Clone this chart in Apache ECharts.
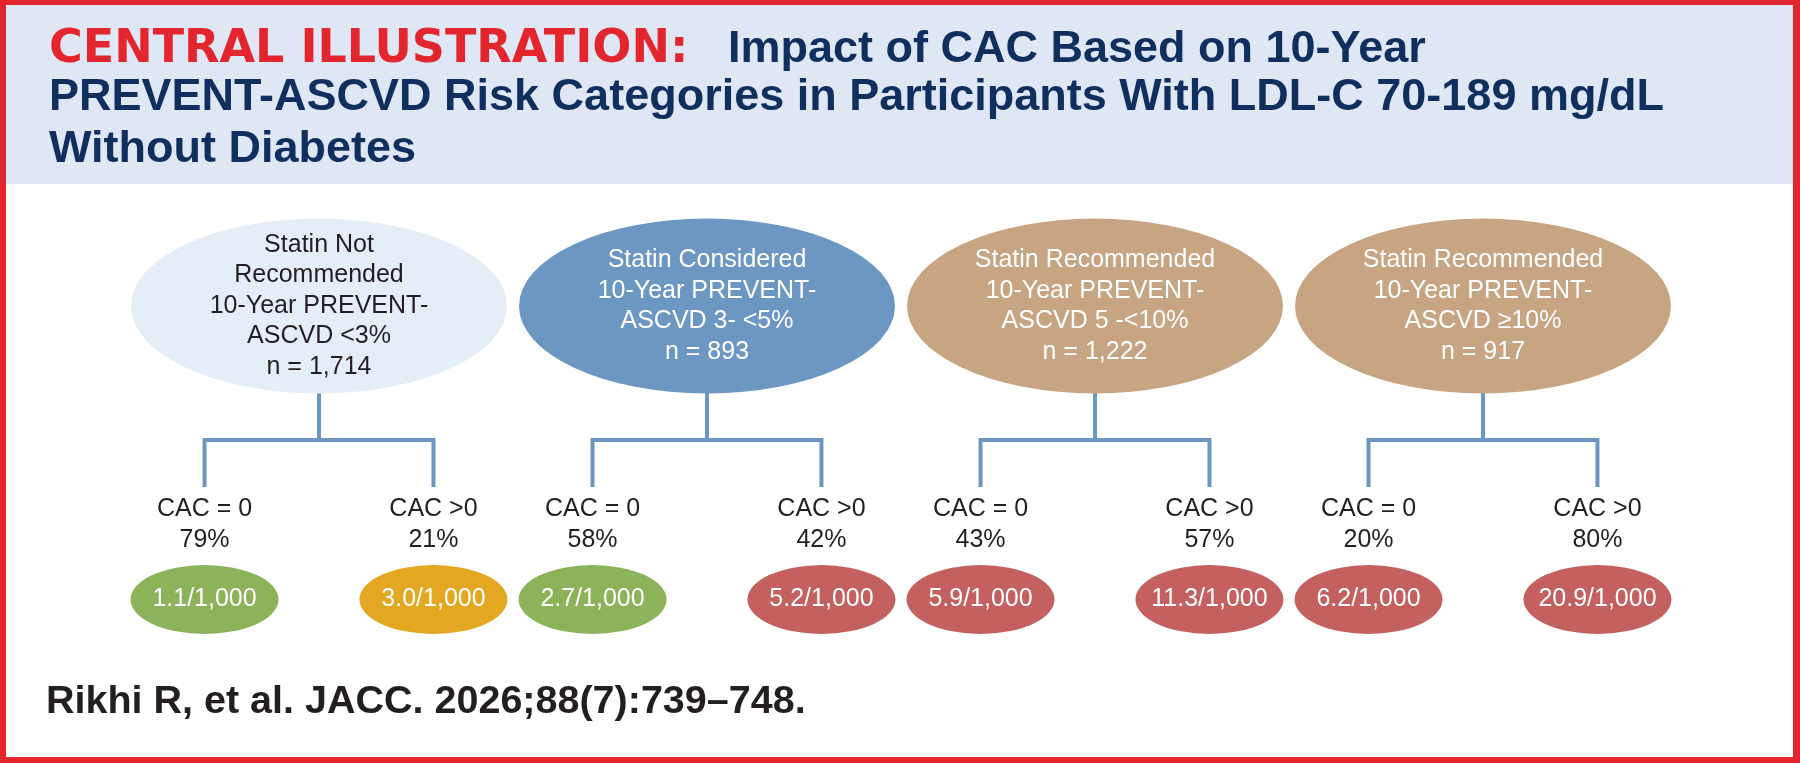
<!DOCTYPE html>
<html>
<head>
<meta charset="utf-8">
<title>Central Illustration - CAC and PREVENT-ASCVD</title>
<script src="https://cdn.jsdelivr.net/npm/echarts@6/dist/echarts.min.js"></script>
<style>
  html, body { margin: 0; padding: 0; background: #fff; }
  #chart { width: 1800px; height: 763px; }
</style>
</head>
<body>
<div id="chart"></div>
<script>
// ========== 数据 ==========
const groupTitles = ['Statin Not\nRecommended', 'Statin Considered', 'Statin Recommended', 'Statin Recommended'];
const groupRanges = ['10-Year PREVENT-\nASCVD <3%', '10-Year PREVENT-\nASCVD 3- <5%', '10-Year PREVENT-\nASCVD 5 -<10%', '10-Year PREVENT-\nASCVD ≥10%'];
const groupTiers = ['notRecommended', 'considered', 'recommended', 'recommended'];
const groupN = ['1,714', '893', '1,222', '917'];
const cacLabels = ['CAC = 0', 'CAC >0'];
const cacZeroPct = [79, 58, 43, 20];
const cacPosPct = [21, 42, 57, 80];
const cacZeroRate = [1.1, 2.7, 5.9, 6.2];
const cacPosRate = [3.0, 5.2, 11.3, 20.9];

// ========== 样式 ==========
const RED = '#e3262e';
const NAVY = '#102e5e';
const INK = '#231f20';
const LINE_COLOR = '#6b96c1';
const TIER_COLORS = { notRecommended: '#e5edf7', considered: '#6b97c2', recommended: '#c8a582' };
const TIER_TEXT = { notRecommended: INK, considered: '#ffffff', recommended: '#ffffff' };
const FONT = '"Liberation Sans", Arial, sans-serif';

// 行位置 (y 轴单位 = 像素)
const ROW_GROUP = 306;
const ROW_BAR = 440;
const ROW_BRANCH_END = 487;
const ROW_CAC = 525;
const ROW_RATE = 599.5;
const BRANCH_OFFSET = 0.295;

function rateColor(rate) {
    if (rate < 3) return '#8db35a';
    if (rate < 5) return '#e4a722';
    return '#c4605f';
}

// ========== 分支数据 ==========
const branchItems = [];
groupN.forEach(function (_, i) {
    branchItems.push({ x: i - BRANCH_OFFSET, label: cacLabels[0], pct: cacZeroPct[i], rate: cacZeroRate[i] });
    branchItems.push({ x: i + BRANCH_OFFSET, label: cacLabels[1], pct: cacPosPct[i], rate: cacPosRate[i] });
});

// ========== 图表 ==========
const myChart = echarts.init(document.getElementById('chart'));

const option = {
    animation: false,
    backgroundColor: '#ffffff',
    grid: { left: 125, right: 123, top: 0, bottom: 0 },
    xAxis: { type: 'value', min: -0.5, max: 3.5, show: false },
    yAxis: { type: 'value', min: 0, max: 763, inverse: true, show: false },
    graphic: [
        { type: 'rect', z: -10, shape: { x: 0, y: 0, width: 1800, height: 763 }, style: { fill: RED } },
        { type: 'rect', z: -9, shape: { x: 6, y: 5, width: 1787, height: 752 }, style: { fill: '#ffffff' } },
        { type: 'rect', z: -8, shape: { x: 6, y: 5, width: 1787, height: 179 }, style: { fill: '#dfe7f5' } },
        {
            type: 'text', x: 49, y: 50.5,
            style: { text: 'CENTRAL ILLUSTRATION:', fill: RED, font: 'bold 46px "DejaVu Sans", sans-serif', textVerticalAlign: 'middle' }
        },
        {
            type: 'text', x: 728, y: 50,
            style: { text: 'Impact of CAC Based on 10-Year', fill: NAVY, font: 'bold 45px ' + FONT, textVerticalAlign: 'middle' }
        },
        {
            type: 'text', x: 49, y: 98,
            style: { text: 'PREVENT-ASCVD Risk Categories in Participants With LDL-C 70-189 mg/dL', fill: NAVY, font: 'bold 45px ' + FONT, textVerticalAlign: 'middle' }
        },
        {
            type: 'text', x: 49, y: 150,
            style: { text: 'Without Diabetes', fill: NAVY, font: 'bold 45px ' + FONT, textVerticalAlign: 'middle' }
        },
        {
            type: 'text', x: 46, y: 702,
            style: { text: 'Rikhi R, et al. JACC. 2026;88(7):739–748.', fill: INK, font: 'bold 39.5px ' + FONT, textVerticalAlign: 'middle' }
        }
    ],
    series: [
        // 连接线
        {
            type: 'custom',
            name: 'tree',
            silent: true,
            renderItem: function (params, api) {
                const x = api.value(0);
                const top = api.coord([x, ROW_GROUP]);
                const bar = api.coord([x, ROW_BAR]);
                const pts = [
                    api.coord([x - BRANCH_OFFSET, ROW_BRANCH_END]),
                    api.coord([x - BRANCH_OFFSET, ROW_BAR]),
                    api.coord([x + BRANCH_OFFSET, ROW_BAR]),
                    api.coord([x + BRANCH_OFFSET, ROW_BRANCH_END])
                ];
                const style = { stroke: LINE_COLOR, lineWidth: 4, fill: 'none' };
                return {
                    type: 'group',
                    children: [
                        { type: 'line', shape: { x1: top[0], y1: top[1], x2: bar[0], y2: bar[1] }, style: style },
                        { type: 'polyline', shape: { points: pts }, style: style }
                    ]
                };
            },
            data: groupN.map(function (_, i) { return [i, ROW_GROUP]; })
        },
        // 风险分组椭圆
        {
            type: 'scatter',
            name: 'groups',
            silent: true,
            symbol: 'circle',
            symbolSize: [376, 175],
            itemStyle: { opacity: 1 },
            emphasis: { disabled: true },
            label: {
                show: true,
                position: 'inside',
                fontFamily: FONT,
                fontSize: 25,
                lineHeight: 30.5,
                align: 'center',
                formatter: function (p) {
                    const i = p.dataIndex;
                    return groupTitles[i] + '\n' + groupRanges[i] + '\nn = ' + groupN[i];
                }
            },
            data: groupN.map(function (_, i) {
                return {
                    value: [i, ROW_GROUP],
                    itemStyle: { color: TIER_COLORS[groupTiers[i]], opacity: 1 },
                    label: { color: TIER_TEXT[groupTiers[i]] }
                };
            })
        },
        // CAC 标签与百分比
        {
            type: 'scatter',
            name: 'cac',
            silent: true,
            symbolSize: 2,
            itemStyle: { color: 'rgba(0,0,0,0)', opacity: 1 },
            emphasis: { disabled: true },
            label: {
                show: true,
                position: 'inside',
                color: INK,
                fontFamily: FONT,
                fontSize: 25,
                lineHeight: 31,
                align: 'center',
                formatter: function (p) {
                    const b = branchItems[p.dataIndex];
                    return b.label + '\n' + b.pct + '%';
                }
            },
            data: branchItems.map(function (b) { return [b.x, ROW_CAC]; })
        },
        // 事件率椭圆
        {
            type: 'scatter',
            name: 'rates',
            silent: true,
            symbol: 'circle',
            symbolSize: [148, 69],
            emphasis: { disabled: true },
            label: {
                show: true,
                position: 'inside',
                color: '#ffffff',
                fontFamily: FONT,
                fontSize: 25,
                formatter: function (p) {
                    return branchItems[p.dataIndex].rate.toFixed(1) + '/1,000';
                }
            },
            data: branchItems.map(function (b) {
                return { value: [b.x, ROW_RATE], itemStyle: { color: rateColor(b.rate), opacity: 1 } };
            })
        }
    ]
};

myChart.setOption(option);
</script>
</body>
</html>
